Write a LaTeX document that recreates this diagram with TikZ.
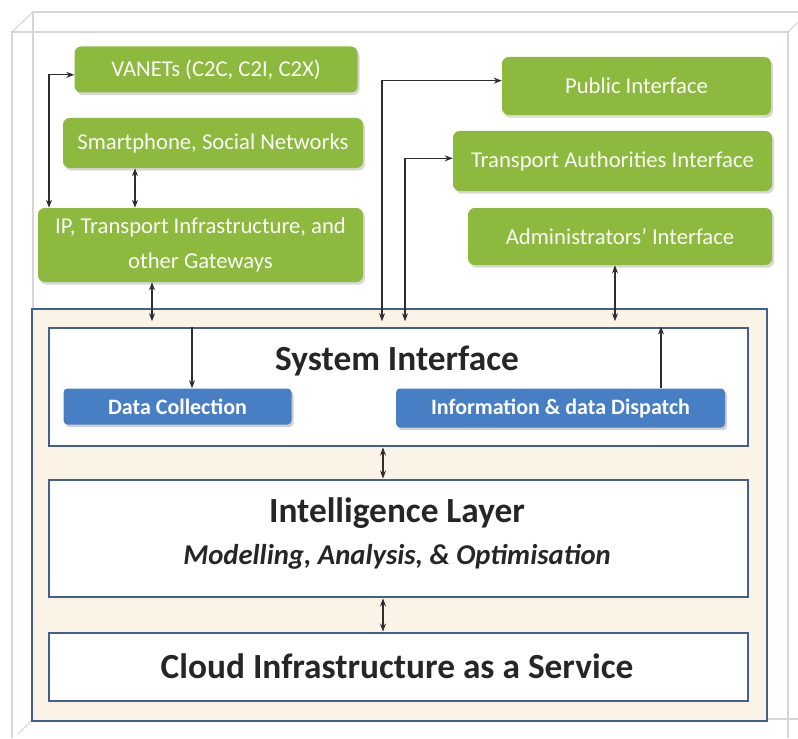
\documentclass[tikz,border=0pt]{standalone}
\usepackage{fontspec}
\setmainfont{Carlito}
\usetikzlibrary{arrows.meta,shadows}
\newlength\pxl
\setlength\pxl{0.75pt}
\definecolor{gfill}{RGB}{141,185,62}
\definecolor{bfill}{RGB}{72,126,196}
\definecolor{lborder}{RGB}{66,96,138}
\definecolor{cream}{RGB}{250,243,230}
\definecolor{cube}{RGB}{212,214,218}
\definecolor{arrc}{RGB}{45,45,50}
\tikzset{
  gbox/.style={rectangle, rounded corners=5pt, fill=gfill, text=white!96!gfill, font=\fontsize{17}{20}\selectfont, align=center, inner sep=2pt,
    drop shadow={shadow xshift=1.5pt, shadow yshift=-2pt, fill=black!25, opacity=0.6}},
  bbox/.style={rectangle, rounded corners=3pt, fill=bfill, text=white, font=\fontsize{16.5}{19}\selectfont\bfseries, inner sep=2pt,
    drop shadow={shadow xshift=1.5pt, shadow yshift=-2pt, fill=black!30, opacity=0.6}},
  layer/.style={rectangle, draw=lborder, line width=2.2pt, fill=white, inner sep=0pt},
  contbox/.style={rectangle, draw=lborder, line width=2.2pt, fill=cream, inner sep=0pt},
  ttl/.style={font=\fontsize{26.5}{30}\selectfont\bfseries, text=black!85, inner sep=0pt},
  sub/.style={font=\fontsize{21.5}{25}\selectfont\bfseries\itshape, text=black!85, inner sep=0pt},
  onearr/.style={draw=arrc, line width=0.8pt, -{Stealth[length=6pt,width=4.5pt]}},
  twoarr/.style={draw=arrc, line width=0.8pt, {Stealth[length=6pt,width=4.5pt]}-{Stealth[length=6pt,width=4.5pt]}},
  cubeline/.style={draw=cube, line width=0.8pt}
}
\begin{document}
\begin{tikzpicture}[x=0.75pt,y=-0.75pt]
\useasboundingbox (0,0) rectangle (798,738);
\fill[white] (0,0) rectangle (798,738);
% cube outline
\draw[cubeline] (33,700) -- (33,12) -- (798,12);
\draw[cubeline] (12,738) -- (12,32) -- (788,32) -- (788,738);
\draw[cubeline] (12,32) -- (33,12);
\draw[cubeline] (788,32) -- (798,22);
\draw[cubeline] (767,719) -- (798,719);
\draw[cubeline] (18,734) -- (33,719);
% container
\node[contbox, minimum width=735\pxl, minimum height=412\pxl] (cont) at (399.5,515) {};
% layers
\node[layer, minimum width=699\pxl, minimum height=118\pxl] (si) at (398.5,387) {};
\node[layer, minimum width=699\pxl, minimum height=117\pxl] (il) at (398.5,538.5) {};
\node[layer, minimum width=699\pxl, minimum height=68\pxl] (cl) at (398.5,667) {};
\node[ttl] (sit) at (397,361) {System Interface};
\node[ttl] (ilt) at (397,513) {Intelligence Layer};
\node[sub] (ils) at (397,557) {Modelling, Analysis, \& Optimisation};
\node[ttl] (clt) at (397,666) {Cloud Infrastructure as a Service};
% blue boxes
\node[bbox, minimum width=228\pxl, minimum height=36\pxl] (dc) at (177.5,406.5) {Data Collection};
\node[bbox, minimum width=329\pxl, minimum height=39\pxl] (dd) at (560.5,408) {Information \& data Dispatch};
% green boxes
\node[gbox, minimum width=283\pxl, minimum height=46\pxl] (van) at (216,69.5) {VANETs (C2C, C2I, C2X)};
\node[gbox, minimum width=300\pxl, minimum height=50\pxl] (sp) at (213,143) {Smartphone, Social Networks};
\node[gbox, minimum width=325\pxl, minimum height=74\pxl] (ip) at (200.5,245) {IP, Transport Infrastructure, and\\[6pt] other Gateways};
\node[gbox, minimum width=269\pxl, minimum height=58\pxl] (pub) at (636.5,86) {Public Interface};
\node[gbox, minimum width=319\pxl, minimum height=60\pxl] (ta) at (612.5,161) {Transport Authorities Interface};
\node[gbox, minimum width=304\pxl, minimum height=57\pxl] (adm) at (620,236.5) {Administrators' Interface};
% helper coordinates
\coordinate (xl) at (49,0);
\coordinate (xsp) at (135,0);
\coordinate (xip) at (152,0);
\coordinate (xpub) at (382,0);
\coordinate (xta) at (405,0);
\coordinate (xadm) at (615,0);
\coordinate (xdc) at (192,0);
\coordinate (xdd) at (661,0);
\coordinate (xmid) at (383,0);
% connectors
\draw[twoarr] ([yshift=-4pt]van.west) -| (ip.north -| xl);
\draw[twoarr] (sp.south -| xsp) -- (ip.north -| xsp);
\draw[twoarr] (ip.south -| xip) -- ([yshift=4pt]si.north -| xip);
\draw[twoarr] ([yshift=4pt]si.north -| xpub) |- ([yshift=4pt]pub.west);
\draw[twoarr] ([yshift=4pt]si.north -| xta) |- ([yshift=2pt]ta.west);
\draw[twoarr] (adm.south -| xadm) -- ([yshift=4pt]si.north -| xadm);
\draw[onearr] (si.north -| xdc) -- (dc.north -| xdc);
\draw[onearr] (dd.north -| xdd) -- (si.north -| xdd);
\draw[twoarr] (si.south -| xmid) -- (il.north -| xmid);
\draw[twoarr] (il.south -| xmid) -- (cl.north -| xmid);
\end{tikzpicture}
\end{document}
